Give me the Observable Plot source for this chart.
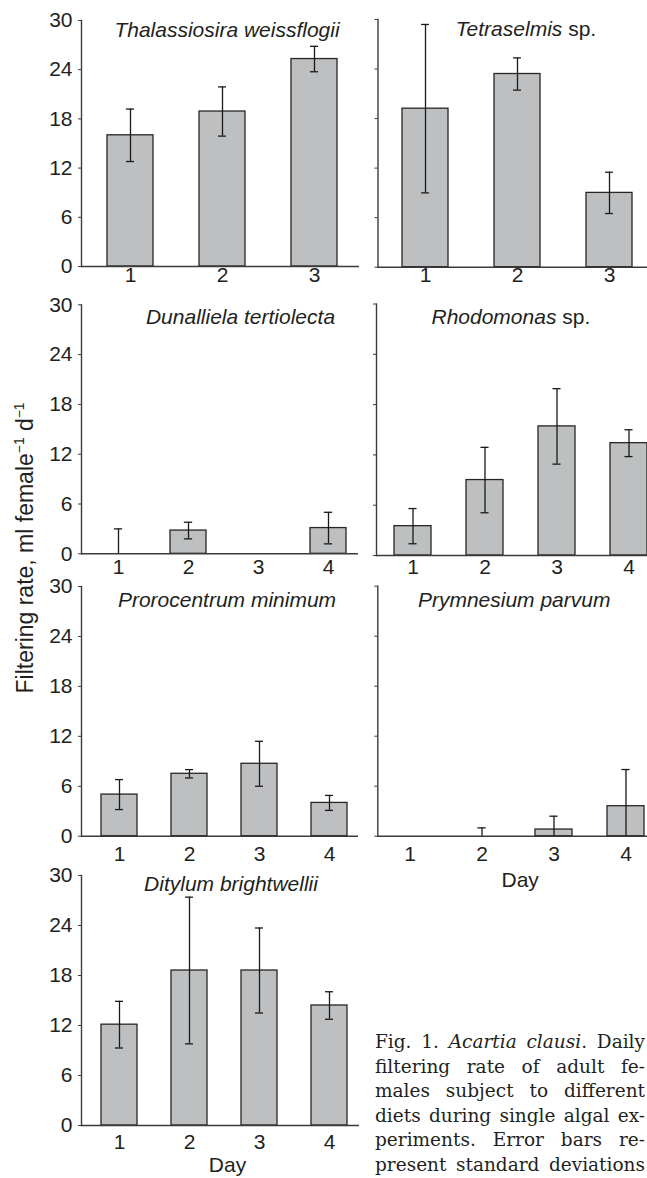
<!DOCTYPE html>
<html><head><meta charset="utf-8">
<script src="https://cdn.jsdelivr.net/npm/d3@7"></script>
<script src="https://cdn.jsdelivr.net/npm/@observablehq/plot@0.6"></script>
<style>
html,body{margin:0;padding:0;background:#fff;overflow:hidden;}
#root{position:relative;width:647px;height:1178px;overflow:hidden;background:#fff;}
#root svg{position:absolute;}
.ytitle{position:absolute;left:24.5px;top:548px;transform:translate(-50%,-50%) rotate(-90deg);font-family:"Liberation Sans",Arial,sans-serif;font-size:23px;line-height:1;white-space:nowrap;color:#231f20;}
.ytitle .sup{font-size:0.6em;position:relative;top:-0.65em;}
.caption{position:absolute;left:375px;top:1030px;width:270px;font-family:"DejaVu Serif",serif;font-size:18.5px;line-height:24.5px;color:#231f20;}
.caption div{text-align:justify;text-align-last:justify;}
</style></head><body><div id="root"></div>
<script>
// ---- data ----
const days3 = [1, 2, 3];
const days4 = [1, 2, 3, 4];
const yTicks = [0, 6, 12, 18, 24, 30];

const thalassiosiraMean = [16.0, 18.9, 25.3];
const thalassiosiraSD   = [3.2, 3.0, 1.55];
const tetraselmisMean   = [19.2, 23.4, 9.0];
const tetraselmisSD     = [10.2, 1.95, 2.5];
const dunaliellaMean    = [0, 2.8, 0, 3.1];
const dunaliellaSD      = [3.0, 1.0, 0, 1.9];
const rhodomonasMean    = [3.5, 9.0, 15.4, 13.4];
const rhodomonasSD      = [2.1, 3.9, 4.5, 1.6];
const prorocentrumMean  = [5.0, 7.5, 8.7, 4.0];
const prorocentrumSD    = [1.8, 0.5, 2.7, 0.9];
const prymnesiumMean    = [0, 0, 0.8, 3.6];
const prymnesiumSD      = [0, 1.0, 1.6, 4.4];
const ditylumMean       = [12.1, 18.6, 18.6, 14.4];
const ditylumSD         = [2.8, 8.8, 5.1, 1.65];

const root = document.getElementById("root");
const FONT = "'Liberation Sans', Arial, Helvetica, sans-serif";
const INK = "#231f20";

function panel(c) {
  const data = c.days.map((d, i) => ({day: d, mean: c.mean[i], sd: c.sd[i]}));
  const pi = c.pad;
  const step = (c.xr[1] - c.xr[0]) / c.days.length;
  const bw = step * (1 - pi);
  const ins = (bw - 8) / 2;
  const mL = c.axisX - c.left, mT = c.y30 - c.top;
  const mB = c.top + c.height - c.y0, mR = c.left + c.width - c.axisEnd;
  const err = data.filter(d => d.sd > 0);
  const marks = [
    Plot.barY(data.filter(d => d.mean > 0), {x: "day", y: "mean", fill: "#bebfc1", stroke: "#262626", strokeWidth: 1.3}),
    Plot.ruleY([0], {stroke: "#3a3a3a", strokeWidth: 1.4}),
    Plot.frame({anchor: "left", stroke: "#3a3a3a", strokeWidth: 1.4}),
    Plot.axisY({ticks: yTicks, tickSize: 3, tickPadding: 6, label: null, fontSize: 21,
      tickFormat: c.yLabels ? (d => String(d)) : (() => ""), stroke: "#3a3a3a", fill: INK}),
    Plot.axisX({tickSize: 0, tickPadding: c.labelPad, label: null, fontSize: 21, fill: INK}),
    Plot.ruleX(err, {x: "day", y1: d => Math.max(0, d.mean - d.sd), y2: d => d.mean + d.sd, stroke: "#1a1a1a", strokeWidth: 1.3}),
    Plot.tickY(err, {x: "day", y: d => d.mean + d.sd, insetLeft: ins, insetRight: ins, stroke: "#1a1a1a", strokeWidth: 1.3}),
    Plot.tickY(err.filter(d => d.mean - d.sd > 0), {x: "day", y: d => d.mean - d.sd, insetLeft: ins, insetRight: ins, stroke: "#1a1a1a", strokeWidth: 1.3})
  ];
  for (const t of c.title) {
    marks.push(Plot.text([t.text], {text: d => d, frameAnchor: "top-left", dx: t.x - c.axisX, dy: c.titleBase - c.y30,
      textAnchor: t.anchor, lineAnchor: "bottom", fontStyle: t.italic ? "italic" : "normal", fontSize: 21, fill: INK}));
  }
  if (c.day) {
    marks.push(Plot.text(["Day"], {text: d => d, frameAnchor: "top-left", dx: c.day.x - c.axisX, dy: c.day.base - c.y30,
      textAnchor: "middle", lineAnchor: "bottom", fontSize: 21, fill: INK}));
  }
  const svg = Plot.plot({
    width: c.width, height: c.height,
    marginLeft: mL, marginRight: mR, marginTop: mT, marginBottom: mB,
    x: {type: "band", domain: c.days, range: [c.xr[0] - c.left, c.xr[1] - c.left], paddingInner: pi, paddingOuter: pi / 2, align: 0.5},
    y: {domain: [0, 30], range: [c.y0 - c.top, c.y30 - c.top]},
    style: {background: "none", maxWidth: "none", overflow: "visible", fontFamily: FONT, fontSize: "21px", color: INK},
    marks
  });
  svg.style.left = c.left + "px";
  svg.style.top = c.top + "px";
  root.appendChild(svg);
}

panel({left: 0, top: 0, width: 370, height: 300, axisX: 81, axisEnd: 359, y0: 266, y30: 20, xr: [84, 360], pad: 0.5,
  days: days3, mean: thalassiosiraMean, sd: thalassiosiraSD, yLabels: true, labelPad: 1, titleBase: 36,
  title: [{text: "Thalassiosira weissflogii", italic: true, anchor: "middle", x: 226.5}]});
panel({left: 320, top: 0, width: 350, height: 300, axisX: 377.5, axisEnd: 670, y0: 266.7, y30: 19, xr: [378, 655], pad: 0.5,
  days: days3, mean: tetraselmisMean, sd: tetraselmisSD, yLabels: false, labelPad: 0, titleBase: 35.7,
  title: [{text: "Tetraselmis", italic: true, anchor: "end", x: 561.8}, {text: " sp.", italic: false, anchor: "start", x: 561.8}]});
panel({left: 0, top: 290, width: 370, height: 300, axisX: 81, axisEnd: 358, y0: 553.3, y30: 304.3, xr: [83, 363], pad: 0.49,
  days: days4, mean: dunaliellaMean, sd: dunaliellaSD, yLabels: true, labelPad: 5, titleBase: 323.3,
  title: [{text: "Dunalliela tertiolecta", italic: true, anchor: "middle", x: 240}]});
panel({left: 320, top: 290, width: 350, height: 300, axisX: 376, axisEnd: 670, y0: 555, y30: 303.5, xr: [375.5, 664.8], pad: 0.49,
  days: days4, mean: rhodomonasMean, sd: rhodomonasSD, yLabels: false, labelPad: 3.4, titleBase: 323.3,
  title: [{text: "Rhodomonas", italic: true, anchor: "end", x: 555.9}, {text: " sp.", italic: false, anchor: "start", x: 555.9}]});
panel({left: 0, top: 575, width: 370, height: 300, axisX: 81, axisEnd: 358, y0: 835.7, y30: 586, xr: [82.5, 365], pad: 0.49,
  days: days4, mean: prorocentrumMean, sd: prorocentrumSD, yLabels: true, labelPad: 9.4, titleBase: 606.7,
  title: [{text: "Prorocentrum minimum", italic: true, anchor: "middle", x: 226.5}]});
panel({left: 320, top: 575, width: 350, height: 320, axisX: 377.3, axisEnd: 670, y0: 835.7, y30: 585.7, xr: [373.6, 662], pad: 0.49,
  days: days4, mean: prymnesiumMean, sd: prymnesiumSD, yLabels: false, labelPad: 9.4, titleBase: 606.7,
  title: [{text: "Prymnesium parvum", italic: true, anchor: "middle", x: 513.7}], day: {x: 519.7, base: 886.7}});
panel({left: 0, top: 860, width: 370, height: 318, axisX: 81, axisEnd: 359, y0: 1125, y30: 875, xr: [83.2, 365.2], pad: 0.49,
  days: days4, mean: ditylumMean, sd: ditylumSD, yLabels: true, labelPad: 8.4, titleBase: 890,
  title: [{text: "Ditylum brightwellii", italic: true, anchor: "middle", x: 230.5}], day: {x: 227, base: 1171.7}});

// y-axis title
const yt = document.createElement("div");
yt.className = "ytitle";
yt.innerHTML = 'Filtering rate, ml female<span class="sup">\u22121</span> d<span class="sup">\u22121</span>';
root.appendChild(yt);

// caption
const cap = document.createElement("div");
cap.className = "caption";
cap.innerHTML = [
  'Fig. 1. <i>Acartia clausi</i>. Daily',
  'filtering rate of adult fe-',
  'males subject to different',
  'diets during single algal ex-',
  'periments. Error bars re-',
  'present standard deviations'
].map(l => '<div>' + l + '</div>').join('');
root.appendChild(cap);
</script>
</body></html>
